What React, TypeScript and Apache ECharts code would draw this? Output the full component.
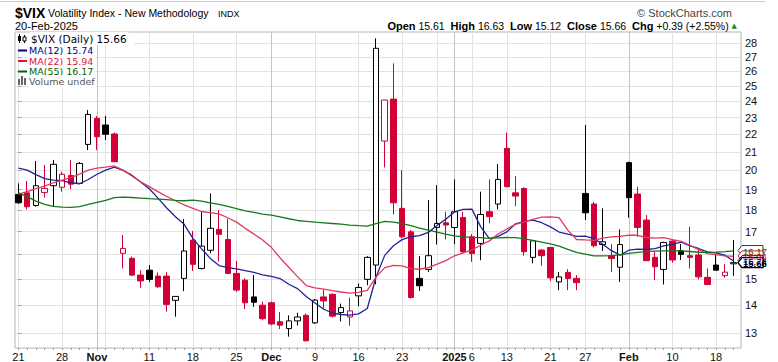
import { useEffect, useRef } from "react";
import * as echarts from "echarts";

// ---------------- data ----------------
const dates: string[] = [
  "2024-10-21", "2024-10-22", "2024-10-23", "2024-10-24", "2024-10-25", "2024-10-28", "2024-10-29", "2024-10-30", "2024-10-31",
  "2024-11-01", "2024-11-04", "2024-11-05", "2024-11-06", "2024-11-07", "2024-11-08", "2024-11-11", "2024-11-12", "2024-11-13",
  "2024-11-14", "2024-11-15", "2024-11-18", "2024-11-19", "2024-11-20", "2024-11-21", "2024-11-22", "2024-11-25", "2024-11-26",
  "2024-11-27", "2024-11-29",
  "2024-12-02", "2024-12-03", "2024-12-04", "2024-12-05", "2024-12-06", "2024-12-09", "2024-12-10", "2024-12-11", "2024-12-12",
  "2024-12-13", "2024-12-16", "2024-12-17", "2024-12-18", "2024-12-19", "2024-12-20", "2024-12-23", "2024-12-24", "2024-12-26",
  "2024-12-27", "2024-12-30", "2024-12-31",
  "2025-01-02", "2025-01-03", "2025-01-06", "2025-01-07", "2025-01-08", "2025-01-10", "2025-01-13", "2025-01-14", "2025-01-15",
  "2025-01-16", "2025-01-17", "2025-01-21", "2025-01-22", "2025-01-23", "2025-01-24", "2025-01-27", "2025-01-28", "2025-01-29",
  "2025-01-30", "2025-01-31",
  "2025-02-03", "2025-02-04", "2025-02-05", "2025-02-06", "2025-02-07", "2025-02-10", "2025-02-11", "2025-02-12", "2025-02-13",
  "2025-02-14", "2025-02-18", "2025-02-19", "2025-02-20",
];

const opens: number[] = [
  18.76, 18.84, 18.22, 18.86, 19.20, 19.12, 19.73, 19.32, 21.42, 22.95,
  22.55, 22.02, 16.05, 15.84, 15.15, 15.35, 15.11, 15.11, 14.17, 15.02,
  16.62, 15.42, 16.18, 17.10, 16.65, 15.22, 14.95, 14.30, 13.99, 14.08,
  13.39, 13.15, 13.42, 13.62, 13.35, 14.30, 14.40, 13.72, 13.56, 14.34,
  14.98, 15.56, 21.61, 24.15, 18.08, 16.99, 15.02, 15.38, 17.19, 17.40,
  17.19, 17.65, 16.77, 16.48, 17.92, 18.29, 21.20, 18.84, 19.06, 15.88,
  16.19, 16.30, 14.88, 15.26, 15.02, 18.81, 18.29, 16.43, 15.95, 15.47,
  20.41, 18.78, 17.53, 15.88, 15.38, 16.58, 16.16, 15.95, 15.98, 15.06,
  15.56, 15.13, 15.61,
];

const highs: number[] = [
  19.32, 19.44, 20.50, 20.28, 20.55, 19.92, 20.55, 20.44, 23.46, 23.09,
  23.09, 22.10, 16.85, 15.91, 15.35, 15.56, 15.26, 15.27, 14.33, 17.58,
  17.03, 17.92, 18.81, 18.00, 17.58, 15.73, 15.02, 15.15, 14.12, 14.12,
  13.74, 13.62, 13.71, 13.69, 14.22, 14.58, 14.43, 14.05, 14.27, 14.82,
  15.93, 28.37, 24.09, 26.55, 20.01, 17.07, 15.93, 18.48, 19.23, 17.92,
  19.52, 17.92, 16.89, 18.90, 19.52, 20.34, 22.10, 19.70, 19.12, 16.62,
  16.22, 16.33, 15.28, 15.39, 15.15, 22.55, 18.39, 18.08, 16.45, 17.10,
  20.46, 19.15, 17.76, 16.12, 16.55, 16.65, 16.45, 17.22, 16.22, 15.42,
  15.98, 15.60, 16.63,
];

const lows: number[] = [
  18.30, 18.03, 18.16, 18.60, 18.19, 18.90, 19.03, 19.30, 21.10, 21.10,
  21.67, 20.44, 15.42, 15.11, 14.65, 14.88, 14.65, 13.75, 13.57, 14.52,
  15.32, 15.38, 16.05, 15.70, 15.19, 14.50, 13.85, 13.93, 13.44, 13.27,
  13.13, 12.87, 13.26, 12.71, 13.31, 13.87, 13.54, 13.40, 13.25, 13.95,
  14.75, 14.79, 20.15, 17.79, 16.70, 14.24, 14.53, 15.28, 16.43, 16.65,
  16.45, 16.04, 15.69, 15.76, 17.38, 18.03, 19.12, 18.19, 15.95, 15.63,
  15.53, 14.92, 14.56, 14.56, 14.56, 17.53, 16.30, 16.15, 15.28, 14.88,
  17.64, 16.77, 15.74, 14.95, 14.78, 15.66, 15.77, 15.42, 14.98, 14.75,
  15.35, 15.04, 15.12,
];

const closes: number[] = [
  18.35, 18.16, 19.20, 19.06, 20.32, 19.79, 19.28, 20.37, 23.19, 21.86,
  22.00, 20.46, 16.26, 15.15, 14.92, 14.98, 14.69, 14.02, 14.32, 16.15,
  15.59, 16.36, 17.15, 16.88, 15.22, 14.56, 14.08, 14.10, 13.50, 13.31,
  13.27, 13.42, 13.56, 12.73, 14.18, 14.15, 13.59, 13.90, 13.78, 14.66,
  15.88, 27.63, 24.09, 18.35, 16.77, 14.28, 14.73, 15.95, 17.37, 17.30,
  17.92, 16.12, 16.04, 17.79, 17.69, 19.52, 19.15, 18.68, 16.12, 16.59,
  15.95, 15.04, 15.08, 15.02, 14.85, 17.87, 16.38, 16.55, 15.83, 16.43,
  18.60, 17.19, 15.74, 15.49, 16.52, 15.77, 16.01, 15.88, 15.08, 14.78,
  15.35, 15.27, 15.66,
];

// moving-average values at the start of the window
// (they depend on closes before the first visible day)
const ma12Head: number[] = [20.12, 20.01, 19.77, 19.56, 19.49, 19.46, 19.35, 19.30, 19.52, 19.79, 20.01];
const ma22Head: number[] = [
  18.78, 18.90, 19.05, 19.18, 19.35, 19.49, 19.61, 19.80, 20.01, 20.12,
  20.17, 20.23, 20.01, 19.70, 19.40, 19.15, 18.90, 18.66, 18.45, 18.25, 18.08,
];
const ma55Head: number[] = [
  18.84, 18.65, 18.43, 18.27, 18.18, 18.14, 18.13, 18.16, 18.27, 18.37,
  18.47, 18.60, 18.63, 18.61, 18.58, 18.55, 18.53, 18.50, 18.47, 18.45,
  18.48, 18.43, 18.35, 18.27, 18.18, 18.07, 17.96,
  17.89, 17.81, 17.76, 17.68, 17.59, 17.51, 17.47, 17.43, 17.40, 17.37,
  17.34, 17.30, 17.27, 17.25, 17.37, 17.47, 17.43, 17.37, 17.27, 17.16,
  17.07, 16.98, 16.89, 16.81, 16.77, 16.74, 16.73,
];

const yGridValues: number[] = [13, 14, 15, 16, 17, 18, 19, 20, 21, 22, 23, 24, 25, 26, 27, 28];
const yLabelValues: number[] = [13, 14, 15, 17, 18, 19, 20, 21, 22, 23, 24, 25, 26, 27, 28];
const skipWeekLabels: string[] = ["2024-11-04", "2024-12-30"];
const monthNames: string[] = ["Jan", "Feb", "Mar", "Apr", "May", "Jun", "Jul", "Aug", "Sep", "Oct", "Nov", "Dec"];

const maPeriods: number[] = [12, 22, 55];
const maLegendValues: number[] = [15.74, 15.94, 16.17];
const lastClose = 15.66;
const headerOpen = 15.61;
const headerHigh = 16.63;
const headerLow = 15.12;
const headerChg = "+0.39";
const headerChgPct = "+2.55%";
const headerDate = "20-Feb-2025";

// ---------------- styling ----------------
const RED = "#d20036";
const BLACK = "#000000";
const MA_LINE = ["#22229c", "#e23a5c", "#17781b"];
const MA_TEXT = ["#00008b", "#dc143c", "#006400"];
const FONT = "'Liberation Sans', Arial, sans-serif";
const LFONT = "'DejaVu Sans', Verdana, sans-serif";

const X_MIN = -0.4;
const X_MAX = dates.length - 0.14;
const Y_MIN = 12.49;
const Y_MAX = 28.85;

function buildOption() {
  const dObj = dates.map((s) => new Date(s + "T00:00:00Z"));
  const weekStarts: number[] = [];
  const monthStarts: number[] = [];
  dates.forEach((_, i) => {
    if (i === 0) {
      weekStarts.push(i);
      return;
    }
    const d = dObj[i];
    const p = dObj[i - 1];
    if (d.getUTCMonth() !== p.getUTCMonth()) monthStarts.push(i);
    if (d.getUTCDay() <= p.getUTCDay() || d.getTime() - p.getTime() > 4 * 86400000) weekStarts.push(i);
  });

  const labelMap = new Map<number, string>();
  monthStarts.forEach((i) => {
    const d = dObj[i];
    labelMap.set(i, d.getUTCMonth() === 0 ? `{b|${d.getUTCFullYear()}}` : `{b|${monthNames[d.getUTCMonth()]}}`);
  });
  weekStarts.forEach((i) => {
    if (!labelMap.has(i) && !skipWeekLabels.includes(dates[i])) labelMap.set(i, String(dObj[i].getUTCDate()));
  });
  const labelIdx = Array.from(labelMap.keys()).sort((a, b) => a - b);

  const vLines = Array.from(new Set([...weekStarts, ...monthStarts])).sort((a, b) => a - b);

  const candleData = dates.map((_, i) => {
    const o = opens[i];
    const c = closes[i];
    const prev = i > 0 ? closes[i - 1] : -Infinity;
    const col = c >= prev ? BLACK : RED;
    const fill = c > o ? "#ffffff" : col;
    return {
      value: [i, o, c, lows[i], highs[i]],
      itemStyle: { color: fill, color0: fill, borderColor: col, borderColor0: col, borderWidth: 1 },
    };
  });

  const heads = [ma12Head, ma22Head, ma55Head];
  const maSeries = maPeriods.map((n, k) => {
    const data = closes.map((_, i) => {
      if (i < n - 1) return [i, heads[k][i]];
      let s = 0;
      for (let j = i - n + 1; j <= i; j++) s += closes[j];
      return [i, +(s / n).toFixed(3)];
    });
    return {
      type: "line",
      name: `MA(${n})`,
      data,
      symbol: "none",
      z: 4,
      silent: true,
      lineStyle: { color: MA_LINE[k], width: 1.3 },
    };
  });

  const gridMarks: any[] = [
    ...yGridValues.map((v) => ({ yAxis: v, lineStyle: { color: "#e2e2e2", width: 1, type: "solid" } })),
    ...vLines.map((i) => ({
      xAxis: i,
      lineStyle: { color: monthStarts.includes(i) ? "#c4c4c4" : "#e2e2e2", width: 1, type: "solid" },
    })),
  ];

  return {
    animation: false,
    backgroundColor: "#ffffff",
    grid: {
      left: 15,
      right: 37,
      top: 32,
      bottom: 14,
      show: true,
      borderColor: "#b4b4b4",
      borderWidth: 1,
      outerBoundsMode: "none",
      containLabel: false,
    },
    xAxis: {
      type: "value",
      min: X_MIN,
      max: X_MAX,
      splitLine: { show: false },
      axisLine: { show: false },
      axisTick: {
        show: true,
        customValues: dates.map((_, i) => i),
        length: 2,
        lineStyle: { color: "#9a9a9a" },
      },
      axisLabel: {
        customValues: labelIdx,
        formatter: (v: number) => labelMap.get(Math.round(v)) ?? "",
        margin: 3,
        fontSize: 11,
        fontFamily: FONT,
        color: "#111",
        rich: { b: { fontWeight: "bold", fontSize: 11, fontFamily: FONT, color: "#111" } },
      },
    },
    yAxis: {
      type: "log",
      logBase: 10,
      min: Y_MIN,
      max: Y_MAX,
      position: "right",
      splitLine: { show: false },
      axisLine: { show: false },
      axisTick: { show: true, customValues: yGridValues, length: 3, lineStyle: { color: "#9a9a9a" } },
      axisLabel: {
        customValues: yLabelValues,
        formatter: (v: number) => String(Math.round(v)),
        margin: 4,
        fontSize: 11,
        fontFamily: FONT,
        color: "#111",
      },
    },
    series: [
      {
        type: "line",
        data: [],
        silent: true,
        markLine: {
          silent: true,
          z: 0,
          symbol: ["none", "none"],
          label: { show: false },
          animation: false,
          data: gridMarks,
        },
      },
      {
        type: "candlestick",
        name: "$VIX",
        data: candleData,
        encode: { x: 0, y: [1, 2, 3, 4] },
        barWidth: 6,
        z: 3,
        silent: true,
      },
      ...maSeries,
    ],
  };
}

export default function App() {
  const ref = useRef<HTMLDivElement>(null);

  useEffect(() => {
    const chart = echarts.init(ref.current!, null, { renderer: "svg" });
    chart.setOption(buildOption() as any);

    const yp = (v: number) => chart.convertToPixel({ yAxisIndex: 0 } as any, v) as unknown as number;
    const xRight = chart.convertToPixel({ xAxisIndex: 0 } as any, X_MAX) as unknown as number;

    const legendLine = (y: number, color: string) => ({
      type: "line",
      z: 30,
      shape: { x1: 18, y1: y, x2: 27, y2: y },
      style: { stroke: color, lineWidth: 2 },
    });
    const legendText = (x: number, y: number, text: string, color: string, size: number) => ({
      type: "text",
      z: 30,
      x,
      y,
      style: {
        text,
        fill: color,
        fontSize: size,
        fontFamily: LFONT,
        verticalAlign: "middle",
        backgroundColor: "#ffffff",
        padding: [1, 2, 1, 1],
      },
    });

    const statics: any[] = [
      { type: "line", shape: { x1: 0, y1: 1.5, x2: 765, y2: 1.5 }, style: { stroke: "#c8c8c8", lineWidth: 1 } },
      {
        type: "text", x: 15, y: 12.5,
        style: { text: "$VIX", fontSize: 14, fontWeight: "bold", fontFamily: FONT, fill: "#000", verticalAlign: "middle" },
      },
      {
        type: "text", x: 48, y: 13,
        style: { text: "Volatility Index - New Methodology", fontSize: 10.5, fontFamily: FONT, fill: "#000", verticalAlign: "middle" },
      },
      {
        type: "text", x: 218, y: 13.5,
        style: { text: "INDX", fontSize: 9, fontFamily: FONT, fill: "#000", verticalAlign: "middle" },
      },
      {
        type: "text", x: 15, y: 25.5,
        style: { text: headerDate, fontSize: 11, fontFamily: FONT, fill: "#000", verticalAlign: "middle" },
      },
      {
        type: "text", x: 732, y: 12.5,
        style: { text: "\u00A9 StockCharts.com", fontSize: 11, fontFamily: FONT, fill: "#444", align: "right", verticalAlign: "middle" },
      },
      {
        type: "text", x: 737, y: 25.5,
        style: {
          text:
            `{b|Open} {v|${headerOpen.toFixed(2)}}  {b|High} {v|${headerHigh.toFixed(2)}}  {b|Low} {v|${headerLow.toFixed(2)}}  ` +
            `{b|Close} {v|${lastClose.toFixed(2)}}  {b|Chg} {v|${headerChg} (${headerChgPct})} {g|\u25B2}`,
          align: "right",
          verticalAlign: "middle",
          fontSize: 10.5,
          fontFamily: FONT,
          fill: "#000",
          rich: {
            b: { fontSize: 11, fontWeight: "bold", fontFamily: FONT, fill: "#000" },
            v: { fontSize: 10.5, fontFamily: FONT, fill: "#000" },
            g: { fontSize: 7, fontFamily: LFONT, fill: "#1a8a1a" },
          },
        },
      },
      // legend box
      { type: "rect", z: 29, shape: { x: 16, y: 33, width: 118, height: 11 }, style: { fill: "#ffffff" } },
      // candle icon
      { type: "line", z: 30, shape: { x1: 19.5, y1: 34, x2: 19.5, y2: 43 }, style: { stroke: "#000", lineWidth: 1 } },
      { type: "rect", z: 30, shape: { x: 18, y: 36, width: 3, height: 5 }, style: { fill: "#000" } },
      { type: "line", z: 30, shape: { x1: 24.5, y1: 35, x2: 24.5, y2: 43 }, style: { stroke: "#000", lineWidth: 1 } },
      { type: "rect", z: 30, shape: { x: 23, y: 37, width: 3, height: 4 }, style: { fill: "#fff", stroke: "#000", lineWidth: 1 } },
      legendText(30, 38.5, `$VIX (Daily) ${lastClose.toFixed(2)}`, "#000", 10.5),
      legendLine(50.5, MA_TEXT[0]),
      legendText(28, 50.5, `MA(${maPeriods[0]}) ${maLegendValues[0].toFixed(2)}`, MA_TEXT[0], 9.5),
      legendLine(61, MA_TEXT[1]),
      legendText(28, 61, `MA(${maPeriods[1]}) ${maLegendValues[1].toFixed(2)}`, MA_TEXT[1], 9.5),
      legendLine(71.5, MA_TEXT[2]),
      legendText(28, 71.5, `MA(${maPeriods[2]}) ${maLegendValues[2].toFixed(2)}`, MA_TEXT[2], 9.5),
      { type: "rect", z: 30, shape: { x: 18, y: 79, width: 2, height: 6 }, style: { fill: "#666" } },
      { type: "rect", z: 30, shape: { x: 21, y: 76, width: 2, height: 9 }, style: { fill: "#666" } },
      { type: "rect", z: 30, shape: { x: 24, y: 78, width: 2, height: 7 }, style: { fill: "#666" } },
      legendText(28, 81.5, "Volume undef", "#555", 9.5),
    ];

    const tagDefs = [
      { v: maLegendValues[2], color: MA_TEXT[2], bold: false },
      { v: maLegendValues[1], color: MA_TEXT[1], bold: false },
      { v: maLegendValues[0], color: MA_TEXT[0], bold: false },
      { v: lastClose, color: "#000", bold: true },
    ];
    const tags = tagDefs.map((t) => ({
      type: "group",
      x: xRight - 3,
      y: yp(t.v),
      z: 40,
      children: [
        {
          type: "polygon",
          z: 40,
          shape: { points: [[0, 0], [4, -5], [25, -5], [25, 5], [4, 5]] },
          style: { fill: "#ffffff", stroke: t.color, lineWidth: t.bold ? 1.4 : 1 },
        },
        {
          type: "text",
          z: 41,
          x: 5,
          y: 0.5,
          style: {
            text: t.v.toFixed(2),
            fill: t.color,
            fontSize: t.bold ? 9.5 : 9.5,
            fontWeight: t.bold ? "bold" : "normal",
            fontFamily: FONT,
            verticalAlign: "middle",
          },
        },
      ],
    }));

    chart.setOption({ graphic: [...statics, ...tags] } as any);
    return () => chart.dispose();
  }, []);

  return (
    <div
      ref={ref}
      style={{ position: "fixed", left: 0, top: 0, width: 778, height: 362, background: "#fff" }}
    />
  );
}
